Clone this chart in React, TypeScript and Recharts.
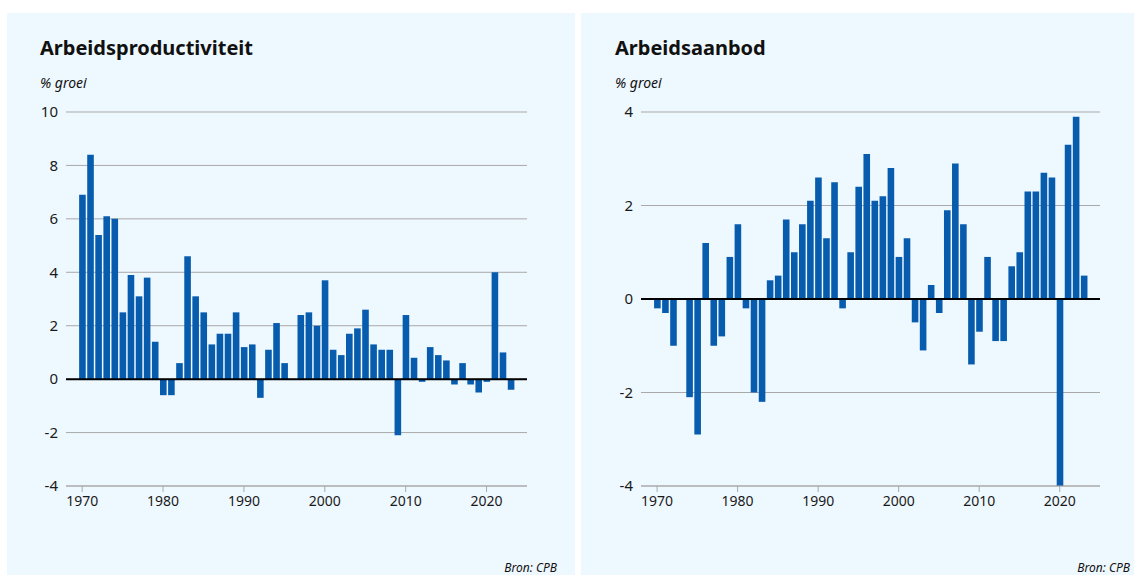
import React from "react";
import { BarChart, Bar, XAxis, YAxis, CartesianGrid, ReferenceLine } from "recharts";

const years: number[] = [
  1970, 1971, 1972, 1973, 1974, 1975, 1976, 1977, 1978, 1979,
  1980, 1981, 1982, 1983, 1984, 1985, 1986, 1987, 1988, 1989,
  1990, 1991, 1992, 1993, 1994, 1995, 1996, 1997, 1998, 1999,
  2000, 2001, 2002, 2003, 2004, 2005, 2006, 2007, 2008, 2009,
  2010, 2011, 2012, 2013, 2014, 2015, 2016, 2017, 2018, 2019,
  2020, 2021, 2022, 2023,
];

const productiviteit: number[] = [
  6.9, 8.4, 5.4, 6.1, 6.0, 2.5, 3.9, 3.1, 3.8, 1.4,
  -0.6, -0.6, 0.6, 4.6, 3.1, 2.5, 1.3, 1.7, 1.7, 2.5,
  1.2, 1.3, -0.7, 1.1, 2.1, 0.6, 0, 2.4, 2.5, 2.0,
  3.7, 1.1, 0.9, 1.7, 1.9, 2.6, 1.3, 1.1, 1.1, -2.1,
  2.4, 0.8, -0.1, 1.2, 0.9, 0.7, -0.2, 0.6, -0.2, -0.5,
  -0.1, 4.0, 1.0, -0.4,
];

const aanbod: number[] = [
  -0.2, -0.3, -1.0, 0, -2.1, -2.9, 1.2, -1.0, -0.8, 0.9,
  1.6, -0.2, -2.0, -2.2, 0.4, 0.5, 1.7, 1.0, 1.6, 2.1,
  2.6, 1.3, 2.5, -0.2, 1.0, 2.4, 3.1, 2.1, 2.2, 2.8,
  0.9, 1.3, -0.5, -1.1, 0.3, -0.3, 1.9, 2.9, 1.6, -1.4,
  -0.7, 0.9, -0.9, -0.9, 0.7, 1.0, 2.3, 2.3, 2.7, 2.6,
  -4.0, 3.3, 3.9, 0.5,
];

const xTicks: number[] = [1970, 1980, 1990, 2000, 2010, 2020];
const yTicksLeft: number[] = [-4, -2, 0, 2, 4, 6, 8, 10];
const yTicksRight: number[] = [-4, -2, 0, 2, 4];

const leftData = years.map((y, i) => ({ year: y, v: productiviteit[i] }));
const rightData = years.map((y, i) => ({ year: y, v: aanbod[i] }));

const FONT = "'Noto Sans', 'Open Sans', sans-serif";
const BG = "#EEF8FF";
const BAR = "#075CAE";
const GRID = "#A9A9A9";
const TEXT = "#1a1a1a";

type PanelProps = {
  data: { year: number; v: number }[];
  yTicks: number[];
  domain: [number, number];
  width: number;
  marginLeft: number;
  marginRight: number;
};

function Panel({ data, yTicks, domain, width, marginLeft, marginRight }: PanelProps) {
  return (
    <BarChart
      width={width}
      height={575}
      data={data}
      margin={{ top: 112, right: marginRight, bottom: 59, left: marginLeft }}
      barSize={6.6}
    >
      <CartesianGrid horizontal={true} vertical={false} stroke={GRID} strokeWidth={1} />
      <XAxis
        dataKey="year"
        type="number"
        domain={[1968, 2025]}
        ticks={xTicks}
        interval={0}
        height={30}
        axisLine={{ stroke: GRID }}
        tickLine={{ stroke: GRID }}
        tickSize={6}
        tickMargin={4}
        tick={{ fill: TEXT, fontSize: 14, fontFamily: FONT }}
      />
      <YAxis
        type="number"
        domain={domain}
        ticks={yTicks}
        interval={0}
        width={30}
        axisLine={false}
        tickLine={false}
        allowDataOverflow={true}
        tick={{ fill: TEXT, fontSize: 15, fontFamily: FONT }}
      />
      <ReferenceLine y={0} stroke="#000" strokeWidth={2} />
      <Bar dataKey="v" fill={BAR} isAnimationActive={false} />
    </BarChart>
  );
}

export default function App() {
  const src: React.CSSProperties = { position: "absolute", top: 561, fontSize: 12, lineHeight: "14px", fontStyle: "italic", color: "#111", whiteSpace: "nowrap" };
  return (
    <div style={{ position: "absolute", left: 0, top: 0, width: 1134, height: 575, background: "#fff", fontFamily: FONT, overflow: "hidden" }}>
      <div style={{ position: "absolute", left: 7, top: 13, width: 568, height: 562, background: BG }} />
      <div style={{ position: "absolute", left: 581, top: 13, width: 553, height: 562, background: BG }} />

      <div style={{ position: "absolute", left: 0, top: 0 }}>
        <Panel data={leftData} yTicks={yTicksLeft} domain={[-4, 10]} width={575} marginLeft={36} marginRight={48} />
      </div>
      <div style={{ position: "absolute", left: 581, top: 0 }}>
        <Panel data={rightData} yTicks={yTicksRight} domain={[-4, 4]} width={553} marginLeft={30} marginRight={34} />
      </div>

      <div style={{ position: "absolute", left: 40, top: 34, fontSize: 20, fontWeight: 700, color: "#111" }}>Arbeidsproductiviteit</div>
      <div style={{ position: "absolute", left: 40, top: 73, fontSize: 14, fontStyle: "italic", color: "#111" }}>% groei</div>
      <div style={{ position: "absolute", left: 615, top: 34, fontSize: 20, fontWeight: 700, color: "#111" }}>Arbeidsaanbod</div>
      <div style={{ position: "absolute", left: 615, top: 73, fontSize: 14, fontStyle: "italic", color: "#111" }}>% groei</div>
      <div style={{ ...src, right: 1134 - 557 }}>Bron: CPB</div>
      <div style={{ ...src, right: 4 }}>Bron: CPB</div>
    </div>
  );
}
